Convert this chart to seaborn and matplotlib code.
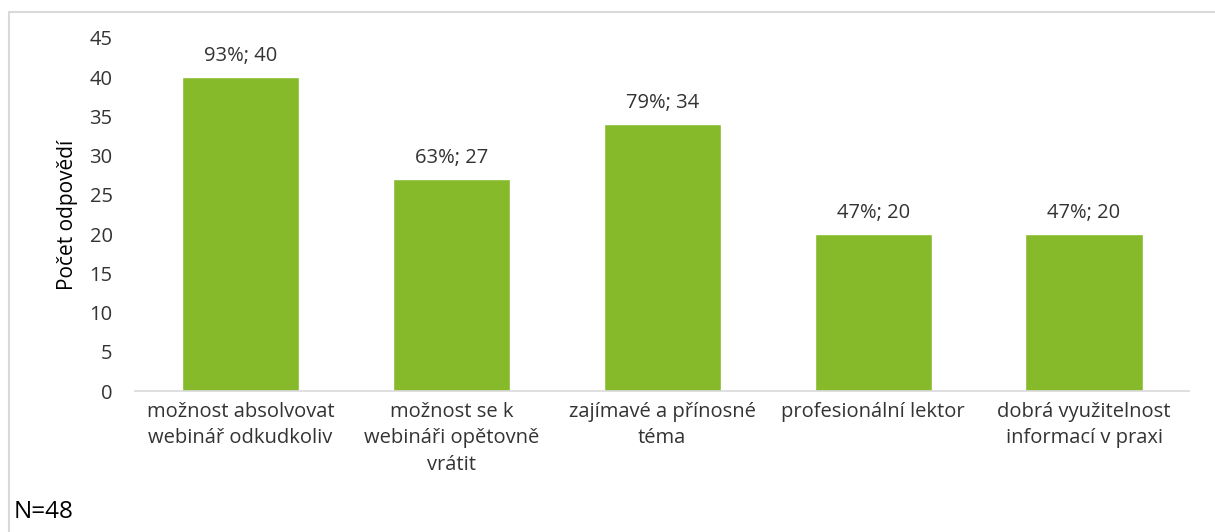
import matplotlib
matplotlib.use("Agg")
import matplotlib.pyplot as plt
import seaborn as sns
import pandas as pd
from matplotlib.lines import Line2D

# data
categories = [
    "možnost absolvovat\nwebinář odkudkoliv",
    "možnost se k\nwebináři opětovně\nvrátit",
    "zajímavé a přínosné\ntéma",
    "profesionální lektor",
    "dobrá využitelnost\ninformací v praxi",
]
counts = [40, 27, 34, 20, 20]
percents = [93, 63, 79, 47, 47]
y_ticks = [0, 5, 10, 15, 20, 25, 30, 35, 40, 45]

df = pd.DataFrame({"kategorie": categories, "pocet": counts})

sns.set_style("white")
plt.rcParams["font.family"] = ["Open Sans", "DejaVu Sans"]

fs = 14.5
txt = "#333333"
fig = plt.figure(figsize=(12.15, 5.32), dpi=100)
ax = fig.add_axes([0.111, 0.265, 0.868, 0.664])

sns.barplot(data=df, x="kategorie", y="pocet", color="#86BA2A",
            width=0.555, saturation=1, ax=ax)

# labels above bars
for i, (c, p) in enumerate(zip(counts, percents)):
    ax.annotate(f"{p}%; {c}", xy=(i, c), xytext=(0, 8),
                textcoords="offset points", ha="center", va="bottom",
                fontsize=fs, color=txt)

ax.set_ylim(0, 45)
ax.set_xlim(-0.5, len(categories) - 0.5)
ax.set_yticks(y_ticks)
ax.tick_params(axis="y", length=0, pad=16, labelsize=fs, labelcolor=txt)
ax.tick_params(axis="x", length=0, pad=8, labelsize=fs, labelcolor=txt)
for lbl in ax.get_xticklabels():
    lbl.set_linespacing(1.42)

ax.set_xlabel("")
ax.set_ylabel("Počet odpovědí", fontsize=15, color="#000000", labelpad=8)

for side in ["top", "right", "left"]:
    ax.spines[side].set_visible(False)
ax.spines["bottom"].set_color("#D9D9D9")
ax.spines["bottom"].set_linewidth(1.2)

fig.text(0.011, 0.038, "N=48", fontsize=17.5, color="#000000", va="center", ha="left")

# light chart-area frame
fig.add_artist(Line2D([0.0075, 1.0], [0.977, 0.977], transform=fig.transFigure,
                      color="#D9D9D9", lw=1.5))
fig.add_artist(Line2D([0.0075, 0.0075], [0.0, 0.977], transform=fig.transFigure,
                      color="#D9D9D9", lw=1.5))

fig.savefig("out.png", dpi=100, facecolor="white")
